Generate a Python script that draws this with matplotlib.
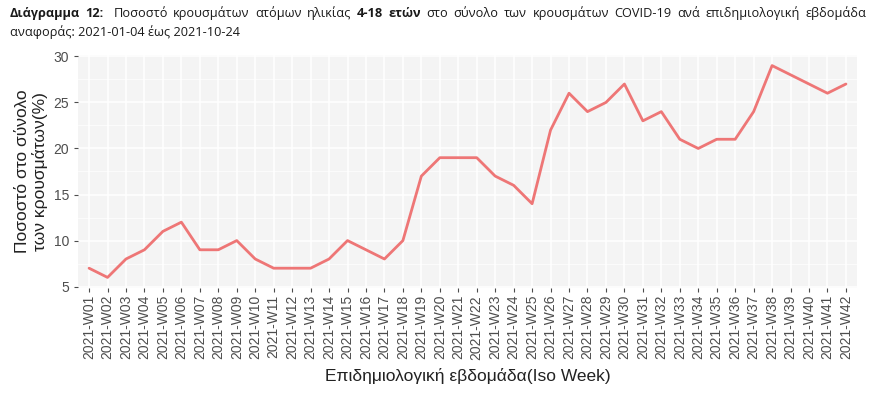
import matplotlib
matplotlib.use("Agg")
import matplotlib.pyplot as plt
import numpy as np

weeks = [f"2021-W{i:02d}" for i in range(1, 43)]
pososto = [7, 6, 8, 9, 11, 12, 9, 9, 10, 8, 7, 7, 7, 8, 10, 9, 8, 10, 17, 19, 19,
           19, 17, 16, 14, 22, 26, 24, 25, 27, 23, 24, 21, 20, 21, 21, 24, 29, 28, 27, 26, 27]
y_ticks = [5, 10, 15, 20, 25, 30]

plt.rcParams['font.family'] = ['Liberation Sans', 'DejaVu Sans']

fig = plt.figure(figsize=(8.8, 3.94), dpi=100)
# panel: x 78..857, y 55..288 (pixels)
ax = fig.add_axes([78/880, 1 - 288/394, (857-78)/880, (288-55)/394])

x = np.arange(len(weeks))
ax.plot(x, pososto, color="#EE7676", linewidth=2.0, solid_capstyle="round", zorder=3)

ax.set_facecolor("#F4F4F4")
ax.set_xlim(-0.6, len(weeks) - 1 + 0.6)
lo, hi = min(pososto), max(pososto)
pad = (hi - lo) * 0.05
ax.set_ylim(lo - pad, hi + pad)
ax.set_yticks(y_ticks)
ax.set_yticks([7.5, 12.5, 17.5, 22.5, 27.5], minor=True)
ax.set_xticks(x)
ax.set_xticklabels(weeks, rotation=90)
ax.grid(True, which="major", color="white", linewidth=1.1)
ax.grid(True, which="minor", axis="y", color="white", linewidth=0.5)
for s in ax.spines.values():
    s.set_visible(False)
ax.tick_params(axis="both", which="major", colors="#4D4D4D", labelsize=10, length=3, width=0.8)
ax.tick_params(axis="y", which="minor", length=0)
ax.tick_params(axis="x", pad=2)

ax.set_xlabel("Επιδημιολογική εβδομάδα(Iso Week)", fontsize=12.5, color="#222222", labelpad=6)
ax.set_ylabel("Ποσοστό στο σύνολο\nτων κρουσμάτων(%)", fontsize=12.5, color="#222222",
              labelpad=4, linespacing=1.1)

# title: justified first line, bold and normal pieces
fig.canvas.draw()
renderer = fig.canvas.get_renderer()
line1 = [("Διάγραμμα 12:", "bold"),
         ("Ποσοστό κρουσμάτων ατόμων ηλικίας", "normal"),
         ("4-18 ετών", "bold"),
         ("στο σύνολο των κρουσμάτων COVID-19 ανά επιδημιολογική εβδομάδα", "normal")]
words = []
for txt, w in line1:
    for wd in txt.split(" "):
        words.append((wd, w))
tfont = dict(fontsize=9.2, family=["Open Sans", "DejaVu Sans"], color="#1a1a1a", va="baseline")
objs = []
total = 0
for wd, w in words:
    t = fig.text(0, 1 - 17 / 394, wd, fontweight=w, **tfont)
    wdt = t.get_window_extent(renderer).width
    objs.append((t, wdt))
    total += wdt
left, right = 10, 862
gap = (right - left - total) / (len(objs) - 1)
xpos = left
for i, (t, wdt) in enumerate(objs):
    t.set_x(xpos / 880)
    xpos += wdt + gap
    if i == 1:
        xpos += 4  # double space after "12:"
fig.text(left / 880, 1 - 36 / 394, "αναφοράς: 2021-01-04 έως 2021-10-24", **tfont)

fig.savefig("out.png", dpi=100, facecolor="white")
